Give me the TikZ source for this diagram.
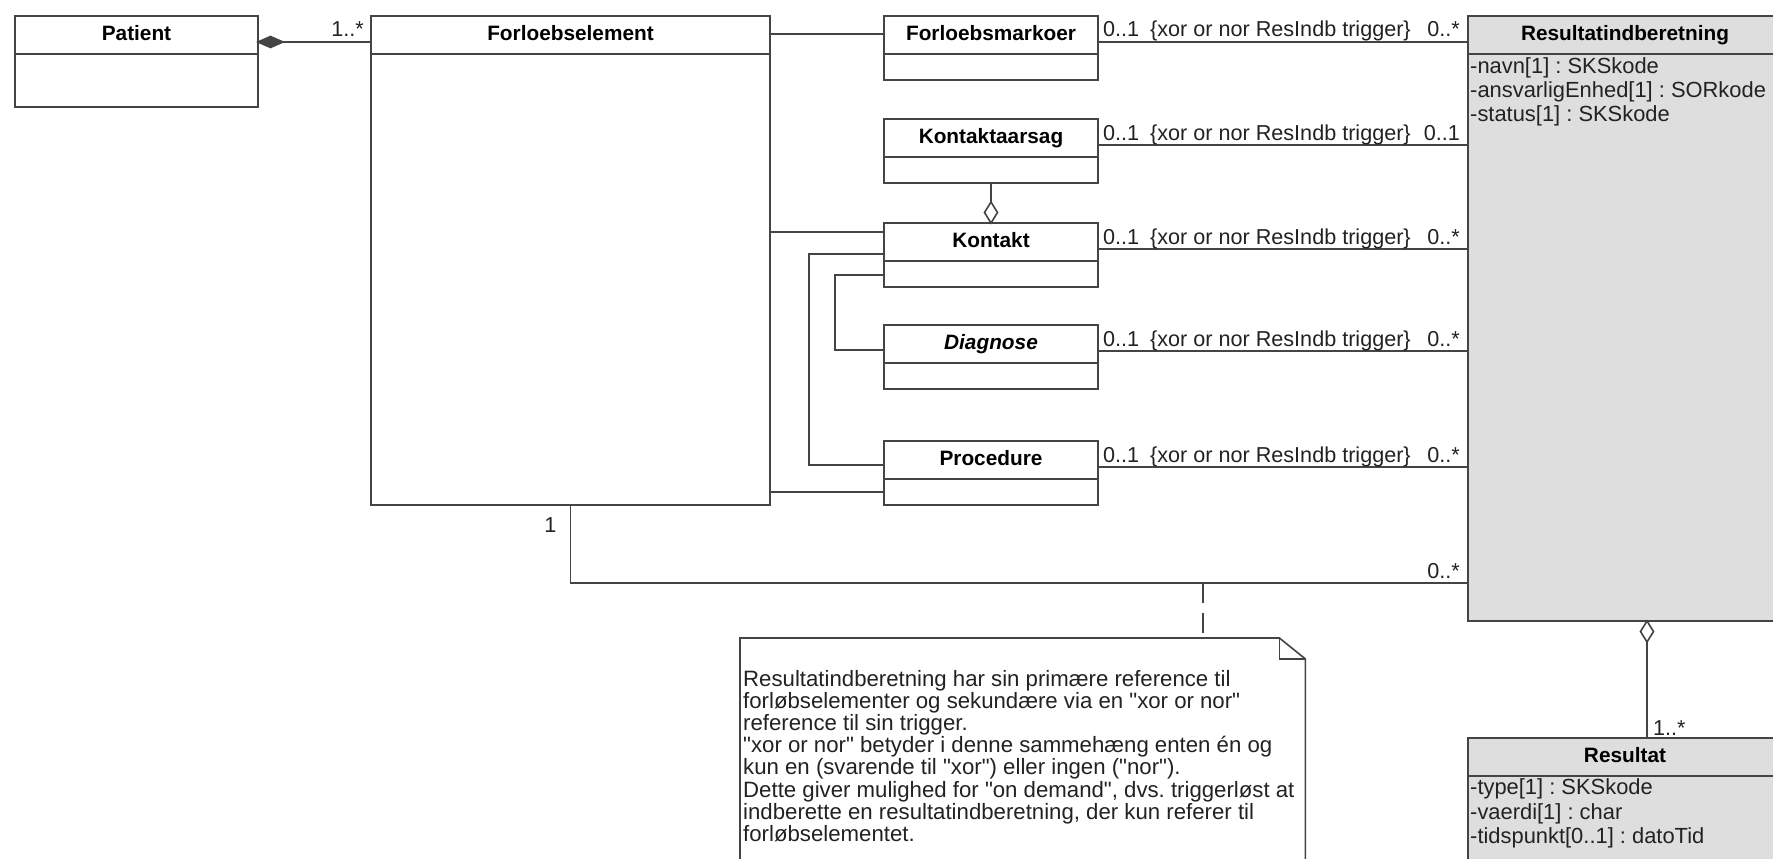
\documentclass[tikz,border=0pt]{standalone}
\usepackage{fontspec}
\setmainfont{Liberation Sans}
\definecolor{lc}{RGB}{68,68,68}
\definecolor{tc}{RGB}{34,34,34}
\definecolor{gf}{RGB}{222,222,222}
\newcommand{\dq}{\textquotedbl}
\tikzset{
  cls/.style={draw=lc, line width=1.6pt, fill=white, anchor=north west, inner sep=0pt, outer sep=0pt, rectangle},
  gcls/.style={cls, fill=gf},
  ttl/.style={font=\fontsize{20.8}{24}\selectfont\bfseries, text=black, inner sep=0pt, anchor=base},
  txt/.style={font=\fontsize{21.6}{23}\selectfont\frenchspacing, text=tc, inner sep=0pt, anchor=base west},
  atr/.style={txt, font=\fontsize{21.9}{23}\selectfont\frenchspacing},
  ntxt/.style={txt, font=\fontsize{22.2}{23}\selectfont\frenchspacing},
  conn/.style={draw=lc, line width=1.6pt},
}
\begin{document}
\frenchspacing
\begin{tikzpicture}[x=1pt,y=-1pt]
\useasboundingbox (0,0) rectangle (1773,859);
\clip (0,0) rectangle (1773,859);
\fill[white] (0,0) rectangle (1773,859);

% classes
\node[cls, minimum width=243pt, minimum height=91pt] (pat) at (15,16) {};
\node[cls, minimum width=399pt, minimum height=489pt] (fe) at (371,16) {};
\node[cls, minimum width=214pt, minimum height=64pt] (fm) at (884,16) {};
\node[cls, minimum width=214pt, minimum height=64pt] (ka) at (884,119) {};
\node[cls, minimum width=214pt, minimum height=64pt] (ko) at (884,223) {};
\node[cls, minimum width=214pt, minimum height=64pt] (dia) at (884,325) {};
\node[cls, minimum width=214pt, minimum height=64pt] (pro) at (884,441) {};
\node[gcls, minimum width=314pt, minimum height=605pt] (ri) at (1468,16) {};
\node[gcls, minimum width=314pt, minimum height=170pt] (res) at (1468,738) {};

\foreach \c in {pat,fe,fm,ka,ko,dia,pro,ri,res}
  \draw[conn] ([yshift=-38pt]\c.north west) -- ([yshift=-38pt]\c.north east);

\node[ttl] (patT) at ([yshift=-24.5pt]pat.north) {Patient};
\node[ttl] (feT) at ([yshift=-24.5pt]fe.north) {Forloebselement};
\node[ttl] (fmT) at ([yshift=-24.5pt]fm.north) {Forloebsmarkoer};
\node[ttl] (kaT) at ([yshift=-24.5pt]ka.north) {Kontaktaarsag};
\node[ttl] (koT) at ([yshift=-24.5pt]ko.north) {Kontakt};
\node[ttl] (diaT) at ([yshift=-24.5pt]dia.north) {\itshape Diagnose};
\node[ttl] (proT) at ([yshift=-24.5pt]pro.north) {Procedure};
\node[ttl] (riT) at ([yshift=-24.5pt]ri.north) {Resultatindberetning};
\node[ttl] (resT) at ([yshift=-24.5pt]res.north) {Resultat};

% attributes
\node[atr] (ri1) at ([xshift=2pt,yshift=-57.5pt]ri.north west) {-navn[1] : SKSkode};
\node[atr] (ri2) at ([xshift=2pt,yshift=-81.5pt]ri.north west) {-ansvarligEnhed[1] : SORkode};
\node[atr] (ri3) at ([xshift=2pt,yshift=-105.5pt]ri.north west) {-status[1] : SKSkode};
\node[atr] (res1) at ([xshift=2pt,yshift=-56.5pt]res.north west) {-type[1] : SKSkode};
\node[atr] (res2) at ([xshift=2pt,yshift=-81pt]res.north west) {-vaerdi[1] : char};
\node[atr] (res3) at ([xshift=2pt,yshift=-105.5pt]res.north west) {-tidspunkt[0..1] : datoTid};

% Patient composition
\coordinate (patC) at ([yshift=-26pt]pat.north east);
\coordinate (feP) at (patC -| fe.west);
\draw[conn] ([xshift=25pt]patC) -- (feP);
\draw[conn, fill=lc] (patC) -- ++(12.5,-5.5) -- ++(12.5,5.5) -- ++(-12.5,5.5) -- cycle;
\node[txt, anchor=base east] (patL) at ([xshift=-7pt,yshift=5pt]feP) {1..*};

% Forloebselement links
\coordinate (fmA) at ([yshift=-18pt]fm.north west);
\draw[conn] (fmA -| fe.east) -- (fmA);
\coordinate (koA) at ([yshift=-9pt]ko.north west);
\draw[conn] (koA -| fe.east) -- (koA);
\coordinate (proB) at ([yshift=-51pt]pro.north west);
\draw[conn] (proB -| fe.east) -- (proB);

% Kontakt links
\coordinate (koB) at ([yshift=-31pt]ko.north west);
\coordinate (proA) at ([yshift=-24pt]pro.north west);
\draw[conn] (koB) -- ++(-75,0) |- (proA);
\coordinate (koC) at ([yshift=-52pt]ko.north west);
\coordinate (diaA) at ([yshift=-25pt]dia.north west);
\draw[conn] (koC) -- ++(-49,0) |- (diaA);

% Kontaktaarsag aggregation
\coordinate (kaD) at ([yshift=21pt]ko.north);
\draw[conn] (ka.south) -- (kaD);
\draw[conn, fill=white] (ko.north) -- ++(6.5,-10.5) -- ++(-6.5,-10.5) -- ++(-6.5,10.5) -- cycle;

% xor links
\foreach \c/\m in {fm/0..*, ka/0..1, ko/0..*, dia/0..*, pro/0..*}{
  \coordinate (\c R) at ([yshift=-26pt]\c.north east);
  \coordinate (\c Q) at (\c R -| ri.west);
  \draw[conn] (\c R) -- (\c Q);
  \node[txt] (\c L1) at ([xshift=5pt,yshift=5pt]\c R) {0..1};
  \node[txt] (\c L2) at ([xshift=52pt,yshift=5pt]\c R) {\{xor or nor ResIndb trigger\}};
  \node[txt, anchor=base east] (\c L3) at ([xshift=-8pt,yshift=5pt]\c Q) {\m};
}

% bottom link
\coordinate (ribl) at ([yshift=38pt]ri.south west);
\draw[conn] (fe.south) |- (ribl);
\node[txt, anchor=base east] (feL) at ([xshift=-14pt,yshift=-27pt]fe.south) {1};
\node[txt, anchor=base east] (riL) at ([xshift=-8pt,yshift=5pt]ribl) {0..*};

% Resultat aggregation
\coordinate (agg) at ([xshift=22pt]ri.south);
\coordinate (aggB) at ([yshift=-21pt]agg);
\coordinate (resTop) at (aggB |- res.north);
\draw[conn] (aggB) -- (resTop);
\draw[conn, fill=white] (agg) -- ++(6.5,10.5) -- ++(-6.5,10.5) -- ++(-6.5,-10.5) -- cycle;
\node[txt] (resL) at ([xshift=6pt,yshift=3pt]resTop) {1..*};

% note
\node[anchor=north west, minimum width=565pt, minimum height=260pt, inner sep=0pt] (note) at (740,638) {};
\coordinate (dtop) at (1203,583);
\draw[conn, dash pattern=on 20pt off 10pt] (dtop) -- (dtop |- note.north);
\draw[conn, fill=white] (note.south west) -- (note.north west) -- ([xshift=-26pt]note.north east)
  -- ([yshift=-21pt]note.north east) -- (note.south east);
\draw[conn] ([xshift=-26pt]note.north east) -- ([xshift=-26pt,yshift=-21pt]note.north east) -- ([yshift=-21pt]note.north east);
\foreach \t [count=\i] in {
  {Resultatindberetning har sin primære reference til},
  {forløbselementer og sekundære via en \dq xor or nor\dq},
  {reference til sin trigger.},
  {\dq xor or nor\dq\ betyder i denne sammehæng enten én og},
  {kun en (svarende til \dq xor\dq) eller ingen (\dq nor\dq).},
  {Dette giver mulighed for \dq on demand\dq, dvs. triggerløst at},
  {indberette en resultatindberetning, der kun referer til},
  {forløbselementet.}}
  \node[ntxt] (n\i) at ([xshift=3pt,yshift={-48pt-22.2pt*(\i-1)}]note.north west) {\t};
\end{tikzpicture}
\end{document}
